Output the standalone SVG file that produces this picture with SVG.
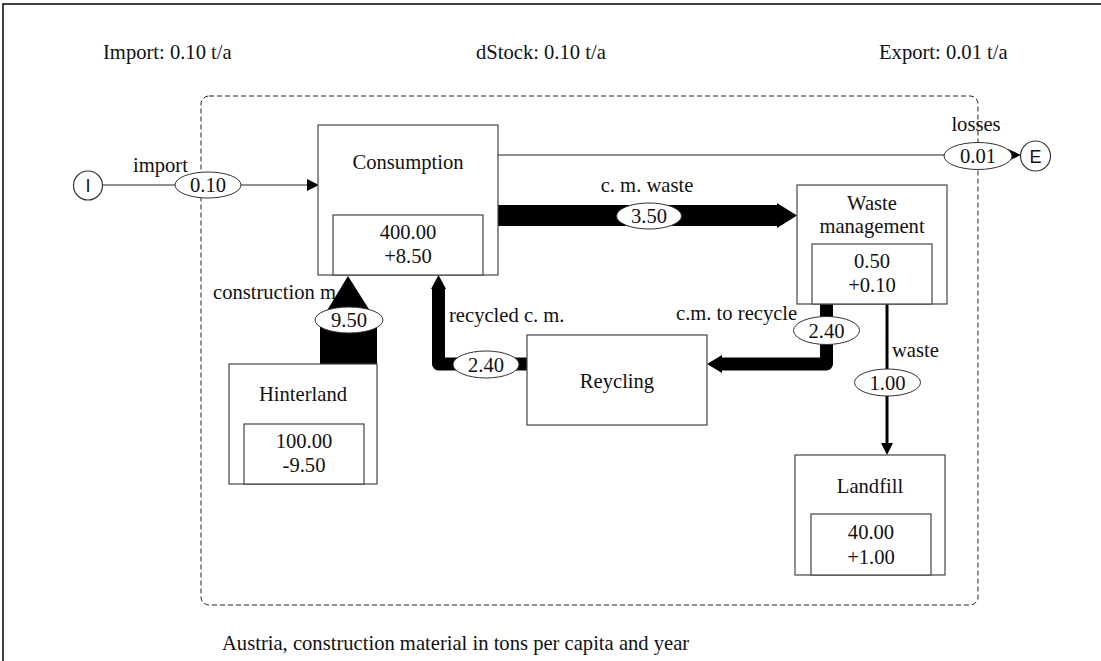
<svg xmlns="http://www.w3.org/2000/svg" width="1101" height="661" viewBox="0 0 1101 661">
  <style>
    .t { font-family: "Liberation Serif", "Times New Roman", serif; font-size: 20.6px; fill: #111; }
    .c { text-anchor: middle; }
    .s { font-family: "Liberation Sans", Arial, sans-serif; font-size: 18px; fill: #111; text-anchor: middle; }
    .box { fill: #fff; stroke: #444; stroke-width: 1.2; }
    .val { fill: #fff; stroke: #333; stroke-width: 1; }
    .thin { stroke: #222; stroke-width: 1.2; fill: none; }
    .thick { stroke: #000; fill: none; stroke-linejoin: round; }
    .head { fill: #000; }
  </style>

  <rect width="1101" height="661" fill="#fff"/>
  <!-- page frame -->
  <path d="M3 661 V4 H1101" fill="none" stroke="#000" stroke-width="1.5"/>

  <!-- system boundary -->
  <rect x="201" y="96" width="777" height="509" rx="8" ry="8" fill="none" stroke="#222" stroke-width="1" stroke-dasharray="5 3"/>

  <!-- balance summary -->
  <text class="t" x="103" y="59">Import: 0.10 t/a</text>
  <text class="t" x="476" y="59">dStock: 0.10 t/a</text>
  <text class="t" x="879" y="59">Export: 0.01 t/a</text>

  <!-- flows -->
  <g id="connectors">
    <!-- import -->
    <line class="thin" x1="102" y1="185" x2="308" y2="185"/>
    <polygon class="head" points="307,179 319,185 307,191"/>
    <!-- losses -->
    <line class="thin" x1="498" y1="155" x2="1010" y2="155"/>
    <polygon class="head" points="1008,149 1021,155 1008,161"/>
    <!-- c. m. waste -->
    <rect x="498" y="205" width="280" height="21" fill="#000"/>
    <polygon class="head" points="777,203 797,215.5 777,228"/>
    <!-- construction material -->
    <rect x="320" y="322" width="57" height="43" fill="#000"/>
    <polygon class="head" points="320,322 348,276 377,322"/>
    <!-- recycled c. m. -->
    <path class="thick" stroke-width="13" d="M527 364 H438.5 V288"/>
    <polygon class="head" points="431,289 438.5,275 446,289"/>
    <!-- c.m. to recycle -->
    <path class="thick" stroke-width="13" d="M826.5 304 V364 H721"/>
    <polygon class="head" points="722,355 707,364 722,373"/>
    <!-- waste -->
    <line x1="887" y1="304" x2="887" y2="444" stroke="#000" stroke-width="3"/>
    <polygon class="head" points="881,443 887,455 893,443"/>

    <!-- flow values -->
    <ellipse class="val" cx="208" cy="185" rx="33" ry="13"/>
    <text class="t c" x="208" y="192">0.10</text>
    <ellipse class="val" cx="978" cy="156" rx="34" ry="13.5"/>
    <text class="t c" x="978" y="163">0.01</text>
    <ellipse class="val" cx="649" cy="216" rx="32.5" ry="13"/>
    <text class="t c" x="649" y="223">3.50</text>
    <ellipse class="val" cx="349" cy="320" rx="34" ry="13"/>
    <text class="t c" x="349" y="327">9.50</text>
    <ellipse class="val" cx="486" cy="364.5" rx="33" ry="13.5"/>
    <text class="t c" x="486" y="371.5">2.40</text>
    <ellipse class="val" cx="826.5" cy="330.5" rx="33" ry="14"/>
    <text class="t c" x="826.5" y="337.5">2.40</text>
    <ellipse class="val" cx="887.5" cy="382.5" rx="33" ry="13.5"/>
    <text class="t c" x="887.5" y="389.5">1.00</text>

    <!-- flow names -->
    <text class="t" x="133" y="172">import</text>
    <text class="t c" x="976" y="131">losses</text>
    <text class="t c" x="647" y="192">c. m. waste</text>
    <text class="t" x="213" y="299">construction m</text>
    <text class="t" x="449" y="322">recycled c. m.</text>
    <text class="t" x="676" y="320">c.m. to recycle</text>
    <text class="t" x="892" y="357">waste</text>
  </g>

  <!-- import / export nodes -->
  <g id="import-node">
    <circle cx="88" cy="185.5" r="14.5" fill="#fff" stroke="#333" stroke-width="1.2"/>
    <text class="s" x="88" y="192">I</text>
  </g>
  <g id="export-node">
    <circle cx="1035.5" cy="156" r="15" fill="#fff" stroke="#333" stroke-width="1.2"/>
    <text class="s" x="1035.5" y="162.5">E</text>
  </g>

  <!-- processes -->
  <g id="consumption">
    <rect class="box" x="318" y="125" width="180" height="150"/>
    <rect class="box" x="333" y="215" width="150" height="60"/>
    <text class="t c" x="408" y="169">Consumption</text>
    <text class="t c" x="408" y="239">400.00</text>
    <text class="t c" x="408" y="263">+8.50</text>
  </g>

  <g id="waste-management">
    <rect class="box" x="797" y="185" width="150" height="119"/>
    <rect class="box" x="812" y="244" width="120" height="60"/>
    <text class="t c" x="872" y="210">Waste</text>
    <text class="t c" x="872" y="233">management</text>
    <text class="t c" x="872" y="268">0.50</text>
    <text class="t c" x="872" y="292">+0.10</text>
  </g>

  <g id="hinterland">
    <rect class="box" x="229" y="364" width="148" height="120"/>
    <rect class="box" x="244" y="424" width="120" height="60"/>
    <text class="t c" x="303" y="401">Hinterland</text>
    <text class="t c" x="304" y="448">100.00</text>
    <text class="t c" x="304" y="472">-9.50</text>
  </g>

  <g id="reycling">
    <rect class="box" x="527" y="335" width="180" height="90"/>
    <text class="t c" x="617" y="388">Reycling</text>
  </g>

  <g id="landfill">
    <rect class="box" x="795" y="455" width="150" height="120"/>
    <rect class="box" x="811" y="514" width="120" height="61"/>
    <text class="t c" x="870" y="493">Landfill</text>
    <text class="t c" x="871" y="539">40.00</text>
    <text class="t c" x="871" y="564">+1.00</text>
  </g>

  <text class="t" x="222" y="650">Austria, construction material in tons per capita and year</text>
</svg>
